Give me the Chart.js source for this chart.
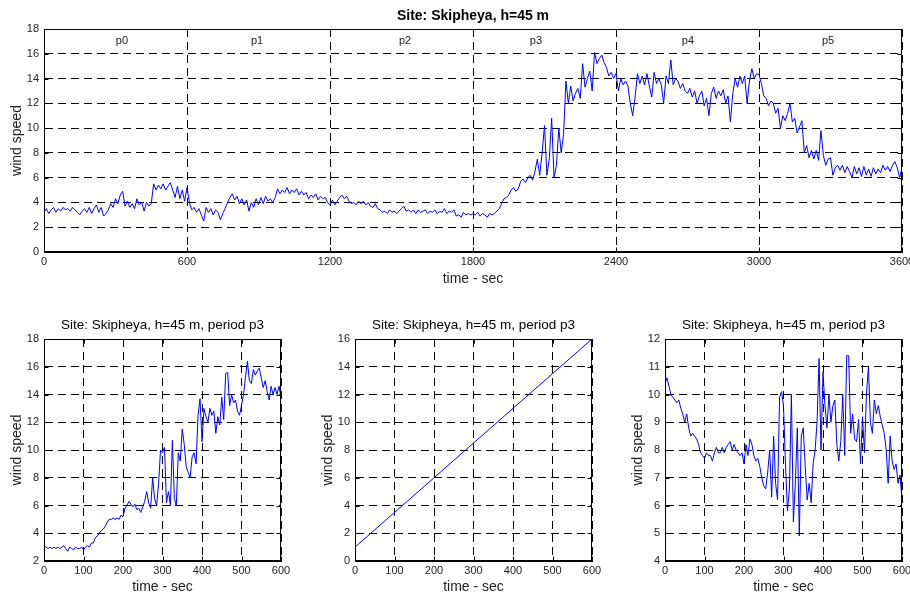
<!DOCTYPE html>
<html>
<head>
<meta charset="utf-8">
<script src="https://cdn.jsdelivr.net/npm/chart.js@4.4.0/dist/chart.umd.min.js"></script>
<style>
  body { margin: 0; background: #fff; }
  canvas { position: absolute; }
</style>
</head>
<body>
<canvas id="topChart" width="910" height="290" style="left:0px;top:0px"></canvas>
<canvas id="p3Chart" width="300" height="287" style="left:0px;top:310px"></canvas>
<canvas id="trendChart" width="300" height="287" style="left:310px;top:310px"></canvas>
<canvas id="resChart" width="300" height="287" style="left:610px;top:310px"></canvas>
<script>
// whole hour, one value every 10 s (one row = 100 s)
const topStep = 10;
const topSpeed = [
  3.2, 3.5, 3.1, 3.4, 3.6, 3.2, 3.5, 3.3, 3.6, 3.4,
  3.5, 3.3, 3.6, 3.4, 3.2, 3.0, 3.3, 3.5, 3.2, 3.6,
  3.1, 3.5, 3.8, 3.2, 3.6, 2.9, 3.1, 3.4, 3.9, 3.6,
  4.3, 3.9, 4.6, 4.9, 3.7, 4.1, 3.6, 3.9, 3.5, 4.3,
  3.8, 4.0, 3.3, 4.0, 3.7, 3.9, 5.5, 5.0, 5.4, 5.1,
  5.5, 5.0, 5.3, 5.6, 5.0, 4.4, 5.3, 4.3, 5.0, 4.1,
  5.2, 4.0, 3.4, 3.6, 3.2, 3.5, 3.0, 2.5, 3.6, 3.2,
  3.5, 3.0, 3.4, 3.2, 2.6, 3.1, 3.5, 4.0, 4.4, 4.7,
  4.2, 4.5, 3.9, 4.3, 3.8, 4.2, 3.3, 4.0, 3.6, 4.3,
  3.8, 4.4, 3.9, 4.5, 4.1, 4.3, 4.0, 4.4, 5.1, 4.7,
  5.0, 4.8, 5.2, 4.7, 5.0, 4.8, 5.1, 4.6, 4.9, 4.6,
  4.8, 4.3, 4.6, 4.4, 4.7, 4.2, 4.5, 4.3, 4.4, 4.0,
  3.8, 4.2, 3.8, 4.1, 4.4, 4.6, 4.3, 4.5, 4.1, 3.9,
  4.0, 3.8, 4.1, 3.9, 4.1, 3.8, 4.0, 3.7, 3.6, 3.9,
  3.5, 3.4, 3.2, 3.3, 3.1, 3.4, 3.2, 3.3, 3.1, 3.3,
  3.5, 3.7, 3.3, 3.4, 3.2, 3.4, 3.1, 3.4, 3.2, 3.3,
  3.4, 3.1, 3.3, 3.2, 3.4, 3.1, 3.3, 3.2, 3.5, 3.1,
  3.3, 3.2, 3.4, 2.9, 3.0, 2.8, 3.2, 3.0, 3.1, 3.0,
  3.1, 3.0, 3.2, 2.9, 3.1, 3.0, 2.8, 3.1, 3.0, 3.1,
  3.3, 3.5, 3.9, 4.3, 4.4, 4.6, 5.0, 5.2, 4.9, 5.1,
  5.7, 5.9, 5.6, 6.0, 6.2, 5.8, 6.5, 7.5, 6.2, 8.0,
  10.2, 6.2, 7.5, 10.8, 6.0, 7.0, 10.0, 8.0, 9.5, 13.8,
  12.0, 13.4, 12.2, 12.8, 13.2, 12.4, 15.2, 13.3, 14.0, 14.6,
  13.0, 16.1, 15.2, 15.6, 15.9, 15.3, 14.9, 14.2, 14.5, 14.0,
  14.4, 13.0, 14.0, 13.5, 13.8, 13.4, 12.0, 11.0, 12.5, 14.4,
  13.6, 14.2, 13.5, 14.4, 13.4, 12.5, 14.5, 13.6, 14.0, 13.5,
  12.0, 14.2, 13.6, 15.5, 13.5, 14.0, 13.8, 13.2, 13.6, 13.0,
  12.8, 13.2, 12.5, 13.0, 12.0, 12.6, 13.0, 11.8, 12.4, 11.0,
  12.8, 13.3, 12.4, 13.0, 12.6, 13.1, 12.0, 12.6, 10.5, 12.8,
  14.0, 13.3, 14.2, 13.6, 14.2, 12.0, 13.8, 14.8, 14.0, 14.4,
  14.3, 13.6, 12.6, 12.4, 11.8, 12.2, 12.0, 11.2, 11.6, 10.0,
  11.0, 10.6, 11.2, 12.0, 10.5, 10.8, 9.6, 10.1, 10.6, 8.0,
  8.6, 7.6, 8.2, 7.5, 8.2, 7.4, 9.8, 7.8, 7.0, 7.5,
  7.6, 6.2, 6.8, 7.0, 6.6, 7.0, 6.4, 6.9, 6.5, 6.0,
  6.9, 6.3, 6.8, 6.1, 6.9, 6.2, 6.7, 6.1, 6.8, 6.3,
  6.7, 6.4, 7.0, 6.6, 6.9, 6.5, 7.0, 7.3, 6.8, 6.0,
  6.8
];
const periodNames = ['p0', 'p1', 'p2', 'p3', 'p4', 'p5'];
const periodLabelX = [327, 894, 1515, 2064, 2702, 3290];
const periodLabelY = 17;

// period p3, one value every 5 s
const p3Step = 5;
const p3Speed = [
  3.1, 3.0, 2.9, 3.0, 2.9, 3.0, 2.9, 3.0, 2.9, 3.0, 3.1, 2.9, 2.7, 3.0, 2.9, 2.8, 3.0, 2.9, 2.9, 3.0,
  2.8, 3.0, 3.1, 3.0, 3.3, 3.3, 3.7, 3.8, 4.0, 4.2, 4.3, 4.5, 4.8, 5.0, 5.0, 5.1, 5.0, 5.1, 5.0, 5.3,
  5.2, 5.8, 6.0, 6.3, 6.1, 5.9, 6.1, 5.7, 5.8, 5.5, 5.9, 6.3, 7.0, 6.2, 5.8, 8.0, 6.5, 6.0, 7.5, 10.0,
  9.8, 10.2, 6.2, 7.0, 6.0, 10.7, 6.5, 6.0, 9.8, 9.2, 11.5, 10.4, 8.8, 8.4, 8.0, 9.5, 9.8, 9.0, 12.5, 13.7,
  10.6, 13.0, 12.4, 12.0, 13.0, 12.5, 12.8, 11.2, 12.4, 11.8, 13.8, 12.2, 15.5, 15.6, 13.2, 14.0, 13.4, 13.6, 12.8, 12.5,
  13.2, 14.0, 15.2, 16.4, 15.0, 14.8, 15.8, 15.4, 15.7, 15.9, 15.2, 14.5, 15.0, 14.2, 13.6, 14.6, 14.0, 14.5, 14.0, 14.6,
  13.8
];

// linear trend of p3
const trendTime = [0, 600];
const trendSpeed = [1, 16];

// third panel, one value every 5 s
const resStep = 5;
const resSpeed = [
  10.4, 10.6, 10.3, 10.0, 9.9, 9.8, 9.7, 9.8, 9.5, 9.3, 9.0, 9.3, 8.8, 8.5, 8.6, 8.5, 8.4, 8.2, 7.9, 7.8,
  7.7, 7.9, 7.8, 7.8, 7.6, 7.9, 8.1, 7.9, 7.9, 8.1, 7.9, 8.1, 8.2, 8.3, 8.0, 8.2, 8.0, 7.9, 7.8, 7.9,
  7.5, 8.2, 7.8, 8.4, 8.2, 7.8, 7.6, 7.7, 7.4, 7.0, 6.7, 6.6, 7.2, 8.0, 6.3, 8.5, 6.8, 6.2, 9.9, 10.1,
  9.6, 7.5, 5.8, 6.6, 10.0, 5.4, 6.8, 8.8, 4.9, 8.5, 8.8, 7.4, 6.2, 6.8, 6.1, 7.5, 8.0, 9.0, 11.3, 8.0,
  10.8, 9.6, 8.8, 10.0, 9.0, 9.6, 9.8, 8.2, 7.6, 8.3, 10.0, 7.8, 11.4, 11.4, 8.6, 9.3, 8.4, 8.3, 9.1, 7.5,
  9.2, 7.9, 10.0, 11.0, 9.0, 8.6, 9.8, 9.3, 9.6, 9.2, 8.9, 8.6, 8.0, 6.8, 8.5, 7.6, 7.3, 7.5, 6.8, 7.1,
  6.2
];

Chart.defaults.font.family = "'Liberation Sans', Arial, sans-serif";
Chart.defaults.font.size = 11;
Chart.defaults.color = '#222';

// box round the plot area plus small inward ticks, like matlab
const framePlugin = {
  id: 'frame',
  afterDraw(chart) {
    const { ctx, chartArea: a, scales } = chart;
    const l = Math.round(a.left) + 0.5, r = Math.round(a.right) - 0.5;
    const t = Math.round(a.top) + 0.5, b = Math.round(a.bottom) - 0.5;
    ctx.save();
    ctx.strokeStyle = '#000';
    ctx.lineWidth = 1;
    ctx.setLineDash([]);
    ctx.strokeRect(l, t, r - l, b - t);
    ctx.beginPath();
    scales.x.ticks.forEach(tk => {
      const px = Math.round(scales.x.getPixelForValue(tk.value)) + 0.5;
      ctx.moveTo(px, b); ctx.lineTo(px, b - 4);
      ctx.moveTo(px, t); ctx.lineTo(px, t + 4);
    });
    scales.y.ticks.forEach(tk => {
      const py = Math.round(scales.y.getPixelForValue(tk.value)) + 0.5;
      ctx.moveTo(l, py); ctx.lineTo(l + 4, py);
      ctx.moveTo(r, py); ctx.lineTo(r - 4, py);
    });
    ctx.stroke();
    ctx.restore();
  }
};

// p0..p5 names in the top chart
const periodPlugin = {
  id: 'periods',
  afterDraw(chart) {
    const { ctx, scales } = chart;
    ctx.save();
    ctx.font = "11px 'Liberation Sans', Arial, sans-serif";
    ctx.fillStyle = '#222';
    ctx.textAlign = 'center';
    ctx.textBaseline = 'middle';
    periodNames.forEach((name, i) => {
      ctx.fillText(name, scales.x.getPixelForValue(periodLabelX[i]), scales.y.getPixelForValue(periodLabelY));
    });
    ctx.restore();
  }
};

function toPoints(values, step) {
  return values.map((v, i) => ({ x: i * step, y: v }));
}

function buildChart(id, o) {
  return new Chart(document.getElementById(id), {
    type: 'line',
    data: {
      datasets: [{
        data: o.points,
        borderColor: '#0000ff',
        borderWidth: 1,
        pointRadius: 0,
        tension: 0,
        fill: false
      }]
    },
    options: {
      responsive: false,
      animation: false,
      events: [],
      layout: { padding: { left: 0, right: o.padRight, top: 0, bottom: 0 } },
      plugins: {
        legend: { display: false },
        tooltip: { enabled: false },
        title: {
          display: true,
          text: o.title,
          fullSize: false,
          color: '#000',
          font: { size: o.bold ? 14 : 13.5, weight: o.bold ? 'bold' : 'normal' },
          padding: { top: o.titleTop, bottom: o.titleBottom }
        }
      },
      scales: {
        x: {
          type: 'linear',
          min: 0,
          max: o.xMax,
          ticks: { stepSize: o.xStep, padding: 3, maxRotation: 0, autoSkip: false, callback: v => String(v) },
          grid: { color: '#000', lineWidth: 1, drawTicks: false },
          border: { color: '#000', dash: [8, 5] },
          title: { display: true, text: 'time - sec', font: { size: 14 }, color: '#222', padding: { top: 0, bottom: o.xTitleBottom } },
          afterFit(s) { s.height = o.xHeight; s.paddingLeft = 0; s.paddingRight = 0; }
        },
        y: {
          type: 'linear',
          min: o.yMin,
          max: o.yMax,
          ticks: { stepSize: o.yStep, padding: 5, autoSkip: false, callback: v => String(v) },
          grid: { color: '#000', lineWidth: 1, drawTicks: false },
          border: { color: '#000', dash: [8, 5] },
          title: { display: true, text: 'wind speed', font: { size: 14 }, color: '#222', padding: { top: o.yTitleTop, bottom: 0 } },
          afterFit(s) { s.width = o.yWidth; s.paddingTop = 0; s.paddingBottom = 0; }
        }
      }
    },
    plugins: o.extra ? [framePlugin, o.extra] : [framePlugin]
  });
}

buildChart('topChart', {
  points: toPoints(topSpeed, topStep),
  title: 'Site: Skipheya, h=45 m', bold: true,
  titleTop: 7.6, titleBottom: 4.6,
  xMax: 3600, xStep: 600, yMin: 0, yMax: 18, yStep: 2,
  yWidth: 44, padRight: 8, xHeight: 38, xTitleBottom: 2.6, yTitleTop: 8.6,
  extra: periodPlugin
});

buildChart('p3Chart', {
  points: toPoints(p3Speed, p3Step),
  title: 'Site: Skipheya, h=45 m, period p3', bold: false,
  titleTop: 6.9, titleBottom: 5.9,
  xMax: 600, xStep: 100, yMin: 2, yMax: 18, yStep: 2,
  yWidth: 44, padRight: 19, xHeight: 36, xTitleBottom: 1.6, yTitleTop: 8.6
});

buildChart('trendChart', {
  points: trendTime.map((t, i) => ({ x: t, y: trendSpeed[i] })),
  title: 'Site: Skipheya, h=45 m, period p3', bold: false,
  titleTop: 6.9, titleBottom: 5.9,
  xMax: 600, xStep: 100, yMin: 0, yMax: 16, yStep: 2,
  yWidth: 45, padRight: 18, xHeight: 36, xTitleBottom: 1.6, yTitleTop: 9.6
});

buildChart('resChart', {
  points: toPoints(resSpeed, resStep),
  title: 'Site: Skipheya, h=45 m, period p3', bold: false,
  titleTop: 6.9, titleBottom: 5.9,
  xMax: 600, xStep: 100, yMin: 4, yMax: 12, yStep: 1,
  yWidth: 55, padRight: 8, xHeight: 36, xTitleBottom: 1.6, yTitleTop: 19.6
});
</script>
</body>
</html>
